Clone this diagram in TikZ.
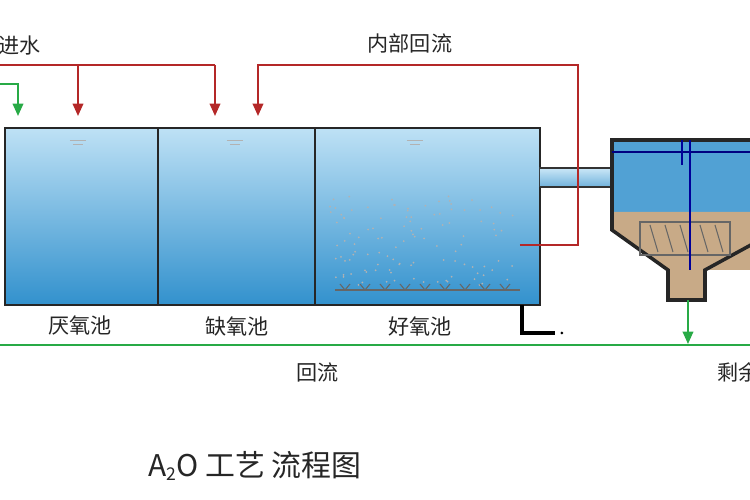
\documentclass[tikz,border=0pt]{standalone}
\usepackage{fontspec}
\setmainfont{Liberation Sans}
\newfontfamily\cjk{Noto Sans CJK SC}
\usetikzlibrary{arrows.meta}
\definecolor{redl}{RGB}{180,40,40}
\definecolor{grn}{RGB}{40,170,70}
\definecolor{wtop}{RGB}{190,225,245}
\definecolor{wbot}{RGB}{50,145,205}
\definecolor{sludge}{RGB}{200,170,135}
\tikzset{
 redflow/.style={draw=redl,line width=0.6pt},
 redarr/.style={redl,line width=0.5pt,-{Triangle[width=3pt,length=3.5pt]}},
 grnarr/.style={grn,line width=0.5pt,-{Triangle[width=3pt,length=3.5pt]}},
 lab/.style={font=\cjk\fontsize{6}{6}\selectfont,text=black!85},
 tank/.style={draw=black!85,line width=0.6pt}
}
\begin{document}
\begin{tikzpicture}[x=0.01cm,y=-0.01cm]
\useasboundingbox (0,0) rectangle (750,500);
\clip (0,0) rectangle (750,500);
% tank
\shade[top color=wtop,bottom color=wbot] (5,128) rectangle (540,305);
\draw[tank] (5,128) rectangle (540,305);
\draw[tank] (158,128) -- (158,305);
\draw[tank] (315,128) -- (315,305);
\foreach \xx in {78,235,415}{\draw[black!30,line width=0.2pt] (\xx-8,140)--(\xx+8,140) (\xx-5,144)--(\xx+5,144);}
% bubbles
\pgfmathsetseed{7}
\foreach \i in {1,...,110}{
 \pgfmathsetmacro\bx{330+185*rnd}
 \pgfmathsetmacro\by{195+90*rnd}
 \fill[black!30] (\bx,\by) circle (1);}
\draw[black!60,line width=0.4pt] (335,290)--(520,290);
\foreach \xx in {345,365,...,515}{\draw[black!60,line width=0.3pt] (\xx-5,284)--(\xx,290)--(\xx+5,284);}
% outlet pipe
\draw[black,line width=1pt] (522,305)--(522,333)--(555,333);
\fill[black] (562,333) circle (1.5);
% connecting pipe
\shade[top color=wtop!80!white,bottom color=wbot!70!white] (540,168) rectangle (625,187);
\draw[black!80,line width=0.5pt] (540,168)--(612,168) (540,187)--(612,187);
% clarifier
\fill[wbot!85] (612,140) rectangle (760,212);
\fill[sludge] (612,212) -- (760,212) -- (760,270) -- (705,270) -- (705,300) -- (668,300) -- (668,270) -- (612,230) -- cycle;
\draw[tank,line width=1pt] (760,140) -- (612,140) -- (612,230) -- (668,270) -- (668,300) -- (705,300) -- (705,270) -- (760,240);
\draw[blue!50!black,line width=0.5pt] (612,152)--(760,152);
\draw[black!60,line width=0.3pt] (640,222) rectangle (730,255);
\foreach \xx in {650,665,680,700,715}{\draw[black!60,line width=0.3pt] (\xx,225)--(\xx+8,252);}
\draw[blue!60!black,line width=0.3pt] (690,140)--(690,270);
\draw[blue!60!black,line width=0.3pt] (682,140)--(682,165);
% green line and arrows
\coordinate (gl) at (0,345);
\coordinate (gr) at (750,345);
\draw[grn,line width=0.6pt] (gl)--(gr);
\draw[grnarr] (688,300)--(688,344);
\draw[grnarr] (0,84)--(18,84)--(18,116);
% red lines
\draw[redflow] (0,65)--(215,65);
\draw[redarr] (78,65)--(78,116);
\draw[redarr] (215,65)--(215,116);
\draw[redflow] (520,245)--(578,245)--(578,65)--(258,65);
\draw[redarr] (258,64)--(258,116);
% labels
\node[lab,anchor=west] at (-14,46) {进水};
\node[lab] at (410,43) {内部回流};
\node[lab] at (80,326) {厌氧池};
\node[lab] at (237,326) {缺氧池};
\node[lab] at (420,326) {好氧池};
\node[lab] at (318,372) {回流};
\node[lab,anchor=west] at (705,372) {剩余};
\node[font=\cjk\fontsize{8.5}{8.5}\selectfont,text=black!85] at (255,466) {A\raisebox{-0.3ex}{\fontsize{5}{5}\selectfont 2}O 工艺 流程图};
\end{tikzpicture}
\end{document}
